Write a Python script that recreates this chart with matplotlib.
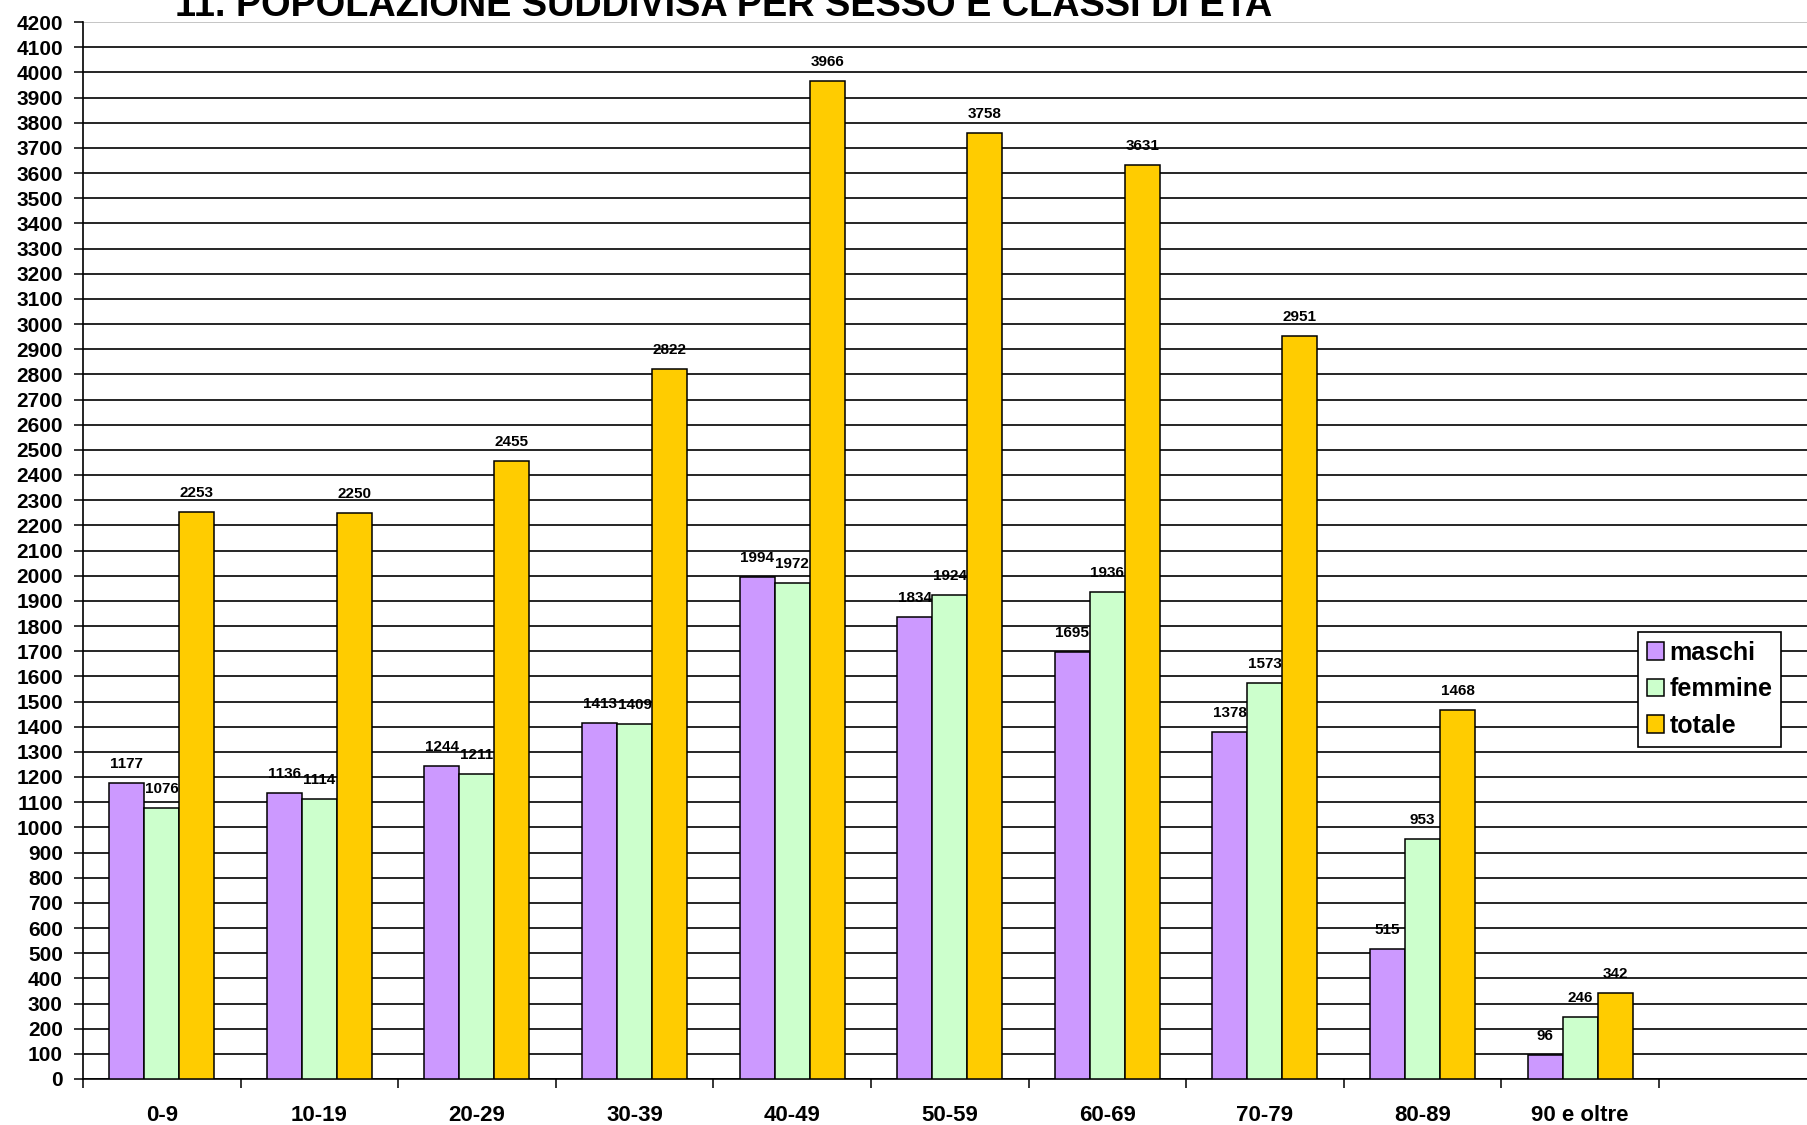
import matplotlib
matplotlib.use("Agg")
import matplotlib.pyplot as plt
import numpy as np

# Data
classi = ["0-9", "10-19", "20-29", "30-39", "40-49", "50-59", "60-69", "70-79", "80-89", "90 e oltre"]
maschi = [1177, 1136, 1244, 1413, 1994, 1834, 1695, 1378, 515, 96]
femmine = [1076, 1114, 1211, 1409, 1972, 1924, 1936, 1573, 953, 246]
totale = [2253, 2250, 2455, 2822, 3966, 3758, 3631, 2951, 1468, 342]
y_ticks = list(range(0, 4201, 100))

titolo = "11. POPOLAZIONE SUDDIVISA PER SESSO E CLASSI DI ETA'"

plt.rcParams['font.family'] = ['Liberation Sans', 'DejaVu Sans']

W, H = 1807, 1125
fig = plt.figure(figsize=(W / 100, H / 100), dpi=100)
ax = fig.add_axes([83 / W, 46 / H, 1 - 83 / W, (1079 - 22) / H])

x = np.arange(len(classi))
w = 0.222

# Bars
series = [("maschi", maschi, "#CC99FF", -w), ("femmine", femmine, "#CCFFCC", 0), ("totale", totale, "#FFCC00", w)]
for name, vals, col, off in series:
    ax.bar(x + off, vals, width=w, color=col, edgecolor="black", linewidth=1.1, label=name, zorder=3)
    for xi, v in zip(x + off, vals):
        ax.annotate(str(v), (xi, v), xytext=(0, 13.7), textcoords="offset points",
                    ha="center", va="center", fontsize=11, fontweight="bold", zorder=4)

# Axes
ax.set_xlim(-0.5, 10.44)
ax.set_ylim(0, 4200)
ax.set_yticks(y_ticks)
ax.set_yticklabels([str(t) for t in y_ticks], fontsize=15, fontweight="bold")
ax.tick_params(axis="y", length=6.5, width=1.1, pad=8)

ax.set_xticks(np.arange(len(classi) + 1) - 0.5)
ax.set_xticklabels([])
ax.set_xticks(x, minor=True)
ax.set_xticklabels(classi, minor=True, fontsize=16, fontweight="bold")
ax.tick_params(axis="x", which="major", length=6.5, width=1.1)
ax.tick_params(axis="x", which="minor", length=0, pad=18.5)

ax.set_axisbelow(True)
ax.yaxis.grid(True, color="black", linewidth=1.2)
ax.yaxis.get_gridlines()[-1].set_color("#bbbbbb")

for s in ["top", "right"]:
    ax.spines[s].set_visible(False)
ax.spines["left"].set_linewidth(1.2)
ax.spines["bottom"].set_linewidth(1.2)

# Legend
leg = ax.legend(loc="upper left", bbox_to_anchor=(1638 / W, 1 - 632 / H), bbox_transform=fig.transFigure,
                prop={"weight": "bold", "size": 18}, fancybox=False, shadow=False,
                handlelength=0.7, handleheight=0.7, handletextpad=0.2, labelspacing=0.5,
                borderpad=0.35, borderaxespad=0)
leg.get_frame().set_edgecolor("black")
leg.get_frame().set_linewidth(1.2)
leg.get_frame().set_alpha(1)

# Title (cut at top like in the original)
fig.text(0.403, 1 - 16 / H, titolo, ha="center", va="baseline", fontsize=27.3, fontweight="bold")

fig.savefig("out.png", dpi=100)
